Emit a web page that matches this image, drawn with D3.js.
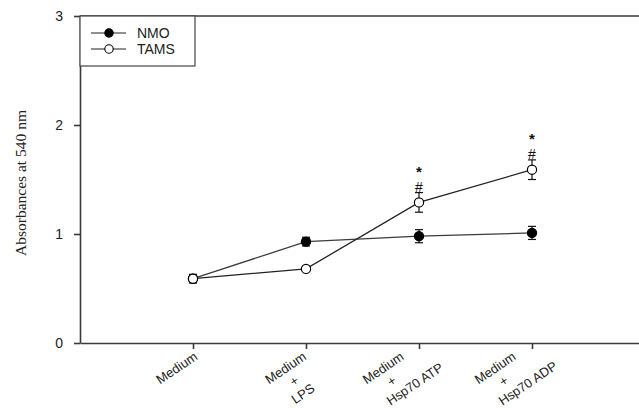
<!DOCTYPE html>
<html>
<head>
<meta charset="utf-8">
<script src="https://cdn.jsdelivr.net/npm/d3@7"></script>
<style>
  body { margin: 0; background: #fff; }
  svg { display: block; }
  .tick text { font-family: 'Liberation Sans', Arial, sans-serif; }
</style>
</head>
<body>
<svg id="chart"></svg>
<script>
// values
const categories = ['Medium', 'Medium + LPS', 'Medium + Hsp70 ATP', 'Medium + Hsp70 ADP'];
const tickLines = [['Medium'], ['Medium', '+', 'LPS'], ['Medium', '+', 'Hsp70 ATP'], ['Medium', '+', 'Hsp70 ADP']];
const nmoMean = [0.59, 0.93, 0.98, 1.01];
const nmoErr = [0.04, 0.04, 0.06, 0.06];
const tamsMean = [0.59, 0.68, 1.29, 1.59];
const tamsErr = [0.03, 0.02, 0.09, 0.09];
const tamsMarks = [[], [], ['#', '*'], ['#', '*']];
const yTicks = [0, 1, 2, 3];
const seriesNames = ['NMO', 'TAMS'];

const width = 639, height = 408;
const svg = d3.select('#chart').attr('width', width).attr('height', height);

let x = d3.scaleLinear().domain([0, 5]).range([80, 645]),
  y = d3.scaleLinear().domain([0, 3]).range([343, 16]),
  axisColor = '#3a3a3a',
  sans = "'Liberation Sans', Arial, sans-serif";

// axes
svg
  .append('g')
  .attr('transform', 'translate(80,0)')
  .call(d3.axisLeft(y).tickValues(yTicks).tickFormat(d3.format('d')).tickSize(6).tickSizeOuter(0).tickPadding(11))
  .call(g => g.selectAll('line, path').attr('stroke', axisColor).attr('stroke-width', 1.6))
  .call(g => g.selectAll('text').attr('font-size', 14).attr('fill', '#222'));

svg
  .append('g')
  .attr('transform', 'translate(0,343)')
  .call(d3.axisBottom(x).tickValues(categories.map((d, i) => i + 1)).tickFormat('').tickSize(6).tickSizeOuter(0))
  .call(g => g.selectAll('line, path').attr('stroke', axisColor).attr('stroke-width', 1.6));

svg
  .append('line')
  .attr('x1', 80).attr('x2', width)
  .attr('y1', y(3)).attr('y2', y(3))
  .attr('stroke', axisColor).attr('stroke-width', 1.6);

// multi line rotated category labels, placed so that the rotated block
// is centred just left of its tick and its top sits under the axis
let angle = 34,
  rad = angle * Math.PI / 180,
  fs = 13,
  lineH = 15.5;
tickLines.forEach((lines, i) => {
  let g = svg.append('g');
  let texts = lines.map((t, j) =>
    g.append('text')
      .attr('y', j * lineH)
      .attr('text-anchor', 'middle')
      .attr('font-family', sans)
      .attr('font-size', fs)
      .attr('fill', '#222')
      .text(t)
  );
  let w0 = texts[0].node().getComputedTextLength(),
    xs = [], ys = [];
  texts.forEach((t, j) => {
    let w = t.node().getComputedTextLength(),
      cx = w > w0 ? (w - w0) / 2 + 8 : 0;
    t.attr('x', cx);
    [cx - w / 2, cx + w / 2].forEach(u => {
      [j * lineH - fs * 0.72, j * lineH + fs * 0.1].forEach(v => {
        xs.push(u * Math.cos(rad) + v * Math.sin(rad));
        ys.push(-u * Math.sin(rad) + v * Math.cos(rad));
      });
    });
  });
  let dx = x(i + 1) - 16 - (d3.min(xs) + d3.max(xs)) / 2,
    dy = 351 - d3.min(ys);
  g.attr('transform', 'translate(' + dx + ',' + dy + ') rotate(' + -angle + ')');
});

// y axis title
svg
  .append('text')
  .attr('transform', 'translate(26,183) rotate(-90)')
  .attr('text-anchor', 'middle')
  .attr('font-family', "'Liberation Serif', 'Times New Roman', serif")
  .attr('font-size', 15.5)
  .attr('fill', '#222')
  .text('Absorbances at 540 nm');

function drawSeries(means, errs, fill, lineColor) {
  let pts = means.map((m, i) => ({ x: x(i + 1), m: m, e: errs[i] }));
  svg
    .append('path')
    .datum(pts)
    .attr('fill', 'none')
    .attr('stroke', lineColor)
    .attr('stroke-width', 1.3)
    .attr('d', d3.line().x(d => d.x).y(d => y(d.m)));

  let eb = svg.append('g').attr('stroke', '#111').attr('stroke-width', 1.2);
  pts.forEach(d => {
    eb.append('line').attr('x1', d.x).attr('x2', d.x).attr('y1', y(d.m - d.e)).attr('y2', y(d.m + d.e));
    eb.append('line').attr('x1', d.x - 4).attr('x2', d.x + 4).attr('y1', y(d.m - d.e)).attr('y2', y(d.m - d.e));
    eb.append('line').attr('x1', d.x - 4).attr('x2', d.x + 4).attr('y1', y(d.m + d.e)).attr('y2', y(d.m + d.e));
  });

  svg
    .append('g')
    .selectAll('circle')
    .data(pts)
    .enter()
    .append('circle')
    .attr('cx', d => d.x)
    .attr('cy', d => y(d.m))
    .attr('r', 4.6)
    .attr('fill', fill)
    .attr('stroke', '#000')
    .attr('stroke-width', 1.2);
}

drawSeries(nmoMean, nmoErr, '#000', '#3c3c3c');
drawSeries(tamsMean, tamsErr, '#fff', '#222');

// significance marks above TAMS error bars
tamsMarks.forEach((marks, i) => {
  let top = y(tamsMean[i] + tamsErr[i]) - 1;
  marks.forEach(m => {
    svg
      .append('text')
      .attr('x', x(i + 1))
      .attr('y', m === '*' ? top - 15 : top)
      .attr('text-anchor', 'middle')
      .attr('font-family', sans)
      .attr('font-size', m === '*' ? 15 : 14)
      .attr('font-weight', m === '*' ? 'bold' : 'normal')
      .attr('fill', '#111')
      .text(m);
  });
});

// legend
let legend = svg.append('g');
legend
  .append('rect')
  .attr('x', 80).attr('y', 16)
  .attr('width', 115).attr('height', 50)
  .attr('fill', '#fff')
  .attr('stroke', '#444')
  .attr('stroke-width', 1.2);

seriesNames.forEach((name, i) => {
  let ly = 33 + i * 16;
  legend.append('line')
    .attr('x1', 91).attr('x2', 126).attr('y1', ly).attr('y2', ly)
    .attr('stroke', '#222').attr('stroke-width', 1.2);
  legend.append('circle')
    .attr('cx', 109).attr('cy', ly).attr('r', 4.2)
    .attr('fill', i === 0 ? '#000' : '#fff')
    .attr('stroke', '#000').attr('stroke-width', 1.1);
  legend.append('text')
    .attr('x', 137).attr('y', ly + 5)
    .attr('font-family', sans)
    .attr('font-size', 14)
    .attr('fill', '#222')
    .text(name);
});
</script>
</body>
</html>
